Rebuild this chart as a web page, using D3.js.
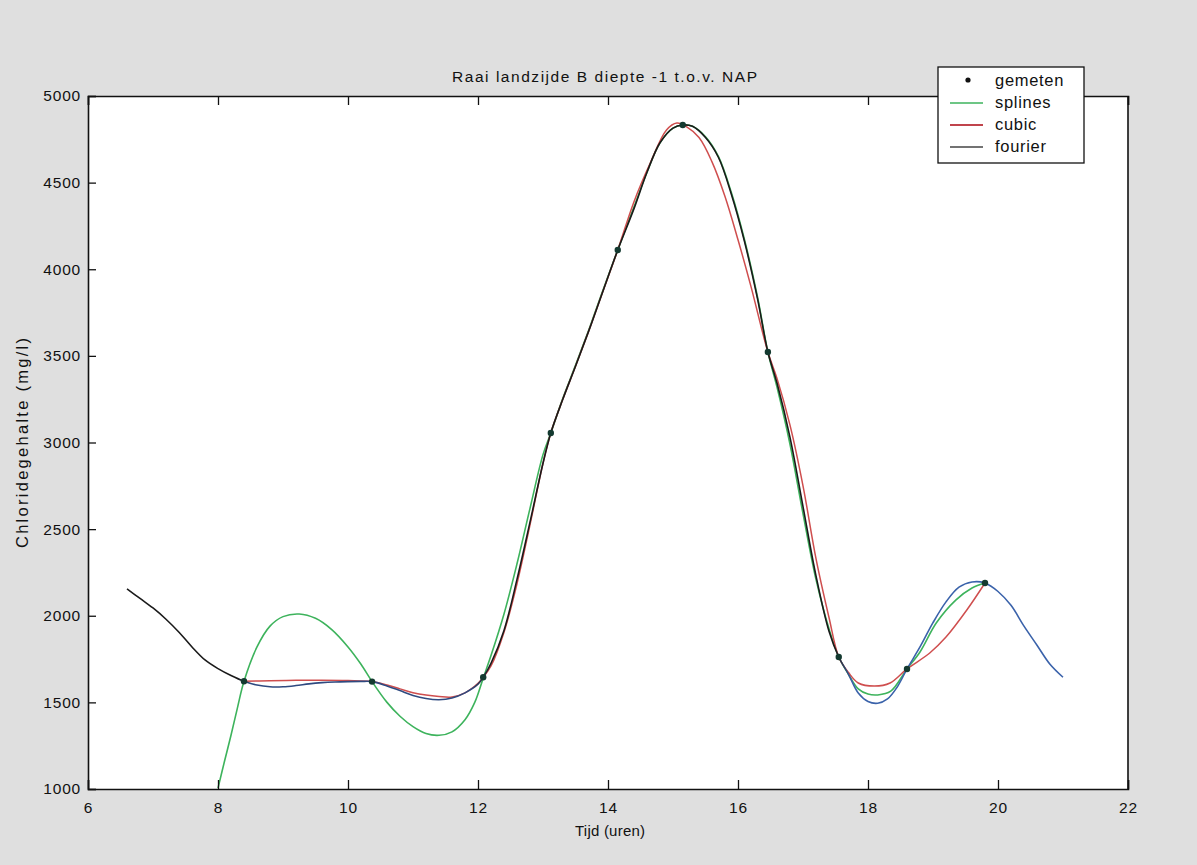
<!DOCTYPE html>
<html>
<head>
<meta charset="utf-8">
<script src="https://cdn.jsdelivr.net/npm/d3@7"></script>
<style>
  html, body { margin: 0; padding: 0; background: #dfdfdf; }
  svg { display: block; }
  text { font-family: "Liberation Sans", Arial, sans-serif; fill: #111; }
</style>
</head>
<body>
<svg id="chart" width="1197" height="865"></svg>
<script>
// ---------- data ----------
const chartTitle = "Raai landzijde B diepte -1 t.o.v. NAP";
const xLabel = "Tijd (uren)";
const yLabel = "Chloridegehalte (mg/l)";
const xTicks = [6, 8, 10, 12, 14, 16, 18, 20, 22];
const yTicks = [1000, 1500, 2000, 2500, 3000, 3500, 4000, 4500, 5000];
const legendLabels = ["gemeten", "splines", "cubic", "fourier"];

// measured points
const gemetenX = [8.4, 10.37, 12.08, 13.12, 14.15, 15.15, 16.46, 17.55, 18.6, 19.8];
const gemetenY = [1622, 1620, 1645, 3055, 4111, 4833, 3522, 1762, 1693, 2189];

// splines
const splinesX = [8.0, 8.1, 8.2, 8.3, 8.4, 8.6, 8.8, 9.0, 9.25, 9.5, 9.75, 10.0, 10.2, 10.37, 10.6, 10.8, 11.0, 11.2, 11.4, 11.6, 11.8, 11.95, 12.08, 12.2, 12.4, 12.6, 12.8, 13.0, 13.12, 13.3, 13.5, 13.7, 13.9, 14.15, 14.4, 14.6, 14.8, 15.0, 15.15, 15.3, 15.5, 15.7, 15.9, 16.1, 16.3, 16.46, 16.6, 16.8, 17.0, 17.2, 17.4, 17.55, 17.7, 17.85, 18.0, 18.15, 18.35, 18.6, 18.8, 19.05, 19.35, 19.6, 19.8];
const splinesY = [1005, 1160, 1310, 1470, 1622, 1820, 1940, 1995, 2010, 1985, 1920, 1820, 1720, 1620, 1500, 1420, 1360, 1320, 1310, 1330, 1400, 1500, 1640, 1770, 2010, 2300, 2620, 2930, 3055, 3250, 3445, 3645, 3855, 4111, 4360, 4560, 4730, 4815, 4833, 4825, 4765, 4650, 4440, 4170, 3840, 3522, 3320, 2990, 2590, 2210, 1925, 1762, 1662, 1578, 1548, 1543, 1565, 1693, 1791, 1958, 2090, 2160, 2189];

// cubic
const cubicX = [8.4, 8.8, 9.2, 9.6, 10.0, 10.37, 10.6, 10.8, 11.0, 11.2, 11.4, 11.6, 11.8, 12.0, 12.08, 12.2, 12.4, 12.6, 12.8, 13.0, 13.12, 13.3, 13.5, 13.7, 13.9, 14.15, 14.4, 14.65, 14.9, 15.06, 15.2, 15.4, 15.6, 15.8, 16.0, 16.2, 16.46, 16.6, 16.8, 17.0, 17.2, 17.4, 17.55, 17.7, 17.85, 18.1, 18.34, 18.6, 18.95, 19.2, 19.52, 19.8];
const cubicY = [1622, 1625, 1627, 1628, 1626, 1620, 1600, 1578, 1556, 1542, 1534, 1531, 1555, 1610, 1645, 1710, 1905, 2185, 2525, 2880, 3055, 3245, 3440, 3640, 3850, 4111, 4390, 4613, 4804, 4844, 4825, 4760, 4620, 4420, 4170, 3900, 3522, 3370, 3100, 2750, 2330, 1990, 1762, 1672, 1612, 1594, 1612, 1693, 1785, 1877, 2033, 2189];

// fourier
const fourierX = [6.6, 6.8, 7.0, 7.2, 7.4, 7.6, 7.8, 8.0, 8.2, 8.4, 8.6, 8.8, 9.0, 9.2, 9.4, 9.6, 9.8, 10.0, 10.2, 10.37, 10.6, 10.8, 11.0, 11.2, 11.4, 11.6, 11.8, 12.0, 12.08, 12.2, 12.4, 12.6, 12.8, 13.0, 13.12, 13.3, 13.5, 13.7, 13.9, 14.15, 14.4, 14.6, 14.8, 15.0, 15.15, 15.3, 15.5, 15.7, 15.9, 16.1, 16.3, 16.46, 16.6, 16.8, 17.0, 17.2, 17.4, 17.55, 17.7, 17.85, 18.0, 18.15, 18.3, 18.45, 18.6, 18.8, 19.0, 19.2, 19.4, 19.6, 19.8, 20.0, 20.2, 20.4, 20.6, 20.8, 21.0];
const fourierY = [2155, 2100, 2045, 1980, 1905, 1820, 1745, 1695, 1655, 1622, 1600, 1590, 1590, 1597, 1607, 1614, 1618, 1620, 1621, 1620, 1595, 1568, 1540, 1522, 1515, 1525, 1555, 1605, 1645, 1725, 1915, 2210, 2540, 2880, 3055, 3245, 3440, 3640, 3850, 4111, 4350, 4560, 4730, 4815, 4833, 4825, 4760, 4645, 4430, 4160, 3830, 3522, 3343, 3030, 2630, 2230, 1910, 1762, 1662, 1554, 1505, 1495, 1520, 1589, 1693, 1820, 1960, 2080, 2165, 2195, 2189, 2140, 2060, 1940, 1830, 1720, 1645];

// ---------- layout ----------
const svg = d3.select("#chart");
const L = 88, T = 96, R = 1128, B = 789;
const x = d3.scaleLinear().domain([6, 22]).range([L, R]);
const y = d3.scaleLinear().domain([1000, 5000]).range([B, T]);

// plot area
svg.append("rect").attr("x", L).attr("y", T).attr("width", R - L).attr("height", B - T).attr("fill", "#fff");

const defs = svg.append("defs");
defs.append("clipPath").attr("id", "clip").append("rect")
  .attr("x", L).attr("y", T).attr("width", R - L).attr("height", B - T);

// fourier stroke gradient (scan shows black and blue parts)
const grad = defs.append("linearGradient").attr("id", "fgrad")
  .attr("gradientUnits", "userSpaceOnUse")
  .attr("x1", L).attr("x2", R).attr("y1", 0).attr("y2", 0);
const gstops = [[6, "#1a1a1a"], [8.3, "#1a1a1a"], [8.5, "#2f4a80"], [11.9, "#2f4a80"], [12.2, "#1a1a1a"], [17.5, "#1a1a1a"], [17.75, "#3a62aa"], [22, "#3a62aa"]];
gstops.forEach(s => grad.append("stop").attr("offset", (x(s[0]) - L) / (R - L)).attr("stop-color", s[1]));

const line = d3.line().x(d => x(d[0])).y(d => y(d[1])).curve(d3.curveCatmullRom.alpha(0.5));
const zip = (a, b) => a.map((v, i) => [v, b[i]]);

const g = svg.append("g").attr("clip-path", "url(#clip)");
g.append("path").datum(zip(splinesX, splinesY)).attr("d", line)
  .attr("fill", "none").attr("stroke", "#3db35c").attr("stroke-width", 1.6);
g.append("path").datum(zip(cubicX, cubicY)).attr("d", line)
  .attr("fill", "none").attr("stroke", "#cf4e4e").attr("stroke-width", 1.5);
g.append("path").datum(zip(fourierX, fourierY)).attr("d", line)
  .attr("fill", "none").attr("stroke", "url(#fgrad)").attr("stroke-width", 1.6);
g.selectAll("circle.pt").data(zip(gemetenX, gemetenY)).enter().append("circle")
  .attr("class", "pt").attr("cx", d => x(d[0])).attr("cy", d => y(d[1])).attr("r", 3.2)
  .attr("fill", "#143a30");

// axes with inward ticks
const axB = d3.axisBottom(x).tickValues(xTicks).tickSize(-9).tickPadding(13).tickFormat(d3.format("d"));
const axT = d3.axisTop(x).tickValues(xTicks).tickSize(-9).tickFormat("");
const axL = d3.axisLeft(y).tickValues(yTicks).tickSize(-8).tickPadding(7).tickFormat(d3.format("d"));

function styleAxis(sel) {
  sel.select(".domain").attr("stroke", "#111").attr("stroke-width", 1.6);
  sel.selectAll(".tick line").attr("stroke", "#111").attr("stroke-width", 1.3);
  sel.selectAll(".tick text").attr("font-size", 15.5).attr("fill", "#111")
    .attr("letter-spacing", 0.8)
    .attr("font-family", "'Liberation Sans', Arial, sans-serif");
}
svg.append("g").attr("transform", `translate(0,${B})`).call(axB).call(styleAxis);
svg.append("g").attr("transform", `translate(0,${T})`).call(axT).call(styleAxis);
svg.append("g").attr("transform", `translate(${L},0)`).call(axL).call(styleAxis);
// right frame edge
svg.append("line").attr("x1", R).attr("x2", R).attr("y1", T).attr("y2", B)
  .attr("stroke", "#111").attr("stroke-width", 1.6);

// titles
svg.append("text").attr("x", 452).attr("y", 82)
  .attr("font-size", 15.5).attr("textLength", 305).attr("lengthAdjust", "spacing").text(chartTitle);
svg.append("text").attr("x", 575).attr("y", 836)
  .attr("font-size", 15).attr("textLength", 70).attr("lengthAdjust", "spacing").text(xLabel);
svg.append("text").attr("transform", `translate(28,548) rotate(-90)`)
  .attr("font-size", 16.5).attr("textLength", 210).attr("lengthAdjust", "spacing").text(yLabel);

// legend
const lg = svg.append("g");
lg.append("rect").attr("x", 938).attr("y", 67).attr("width", 146).attr("height", 96)
  .attr("fill", "#fff").attr("stroke", "#111").attr("stroke-width", 1.3);
const legendStyles = [
  { type: "dot", color: "#111" },
  { type: "line", color: "#3db35c" },
  { type: "line", color: "#c0444c" },
  { type: "line", color: "#444" }
];
legendLabels.forEach((lab, i) => {
  const yy = 81 + i * 22;
  const st = legendStyles[i];
  if (st.type === "dot") {
    lg.append("circle").attr("cx", 968).attr("cy", yy - 1).attr("r", 2.6).attr("fill", st.color);
  } else {
    lg.append("line").attr("x1", 950).attr("x2", 983).attr("y1", yy).attr("y2", yy)
      .attr("stroke", st.color).attr("stroke-width", i === 2 ? 2 : 1.5);
  }
  lg.append("text").attr("x", 995).attr("y", yy + 5).attr("font-size", 16.5)
    .attr("letter-spacing", 0.7).text(lab);
});
</script>
</body>
</html>
